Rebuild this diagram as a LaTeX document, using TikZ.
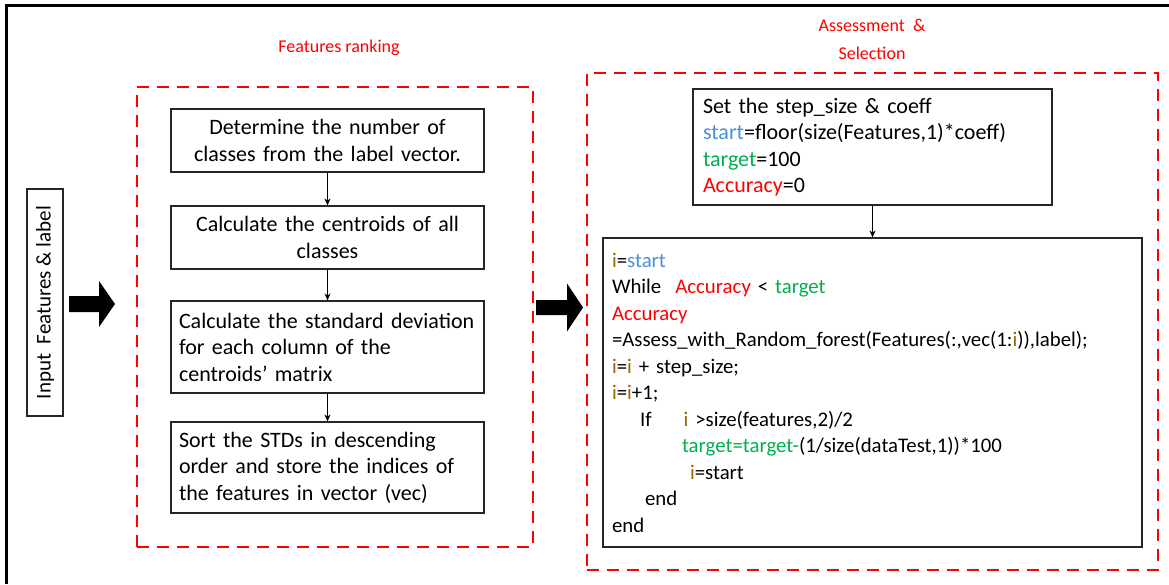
\documentclass[tikz,border=0pt]{standalone}
\usepackage{fontspec}
\setmainfont{Carlito}
\usetikzlibrary{arrows.meta}
\definecolor{cred}{HTML}{FF0000}
\definecolor{cgreen}{HTML}{00B050}
\definecolor{cblue}{HTML}{4A90D9}
\definecolor{cbrown}{HTML}{996600}
\definecolor{boxline}{HTML}{262626}
\newcommand{\vi}{\textcolor{cbrown}{i}}
\tikzset{
  dashbox/.style={draw=cred, line width=2.5pt, dash pattern=on 12pt off 8pt, inner sep=0pt},
  stepbox/.style={draw=boxline, line width=1.2pt, font=\fontsize{22}{26.5}\selectfont, inner ysep=0pt},
  lbl/.style={text=cred, font=\fontsize{18}{28}\selectfont, align=center, inner sep=0pt},
  conn/.style={draw=black, line width=1pt, -{Stealth[length=7pt,width=6pt]}},
  bigarrow/.style={fill=black}
}
\begin{document}
\begin{tikzpicture}[x=1pt,y=-1pt]
\useasboundingbox (0,0) rectangle (1169,584);
\fill[white] (0,0) rectangle (1169,584);
% frame
\draw[line width=3pt] (6,584) -- (6,5) -- (1169,5);
% titles
\node[lbl] (l1) at (339,48) {Features ranking};
\node[lbl] (l2) at (872,39) {Assessment~ \&\\Selection};
% dashed groups
\node[dashbox, minimum width=396pt, minimum height=460pt] (rank) at (335,317) {};
\node[dashbox, minimum width=571pt, minimum height=497pt] (assess) at (872.5,321.5) {};
% input
\node[stepbox, font=\fontsize{21}{26}\selectfont, rotate=90, minimum width=227pt, minimum height=36pt, inner xsep=0pt] (inp) at (45,302.5) {Input~ Features \& label};
% left steps
\node[stepbox, inner xsep=7pt, text width=299pt, align=center, minimum height=63pt] (b1) at (327.5,140.5)
  {Determine the number of\\classes from the label vector.};
\node[stepbox, inner xsep=7pt, text width=299pt, align=center, minimum height=63pt] (b2) at (327.5,237.5)
  {Calculate the centroids of all\\classes};
\node[stepbox, inner xsep=7pt, text width=299pt, align=left, minimum height=92pt] (b3) at (327.5,347)
  {\hspace*{1pt}Calculate the standard deviation\\\hspace*{1pt}for each column of the\\\hspace*{1pt}centroids’ matrix};
\node[stepbox, inner xsep=7pt, text width=299pt, align=left, minimum height=91pt] (b4) at (327.5,467.5)
  {\hspace*{1pt}Sort the STDs in descending\\\hspace*{1pt}order and store the indices of\\\hspace*{1pt}the features in vector (vec)};
\draw[conn] (b1.south) -- (b2.north);
\draw[conn] (b2.south) -- (b3.north);
\draw[conn] (b3.south) -- (b4.north);
% right boxes
\node[stepbox, inner xsep=10pt, text width=339pt, align=left, minimum height=116pt] (init) at (872.5,147)
  {Set the step\_size \& coeff\\
   \textcolor{cblue}{start}=floor(size(Features,1)*coeff)\\
   \textcolor{cgreen}{target}=100\\
   \textcolor{cred}{Accuracy}=0};
\node[stepbox, font=\fontsize{20.8}{26.5}\selectfont, inner xsep=9pt, text width=521pt, align=left, minimum height=309pt] (loop) at (872.5,392.5)
  {\vi=\textcolor{cblue}{start}\\
   While\hspace{14pt}\textcolor{cred}{Accuracy} < \textcolor{cgreen}{target}\\
   \textcolor{cred}{Accuracy}\\
   =Assess\_with\_Random\_forest(Features(:,vec(1:\vi)),label);\\
   \vi=\vi{} + step\_size;\\
   \vi=\vi+1;\\
   \hspace*{28pt}If\hspace{32pt}\vi{} >size(features,2)/2\\
   \hspace*{70pt}\textcolor{cgreen}{target=target-}(1/size(dataTest,1))*100\\
   \hspace*{78pt}\vi=start\\
   \hspace*{33pt}end\\
   end};
\draw[conn] (init.south) -- (loop.north);
% block arrows
\coordinate (ar1) at (69,304);
\fill[bigarrow] (ar1) ++(0,-8) -- ++(30,0) -- ++(0,-15) -- ++(16,23) -- ++(-16,23) -- ++(0,-15) -- ++(-30,0) -- cycle;
\coordinate (ar2) at (536,307.5);
\fill[bigarrow] (ar2) ++(0,-7.5) -- ++(31,0) -- ++(0,-16.5) -- ++(16,24) -- ++(-16,24) -- ++(0,-16.5) -- ++(-31,0) -- cycle;
\end{tikzpicture}
\end{document}
